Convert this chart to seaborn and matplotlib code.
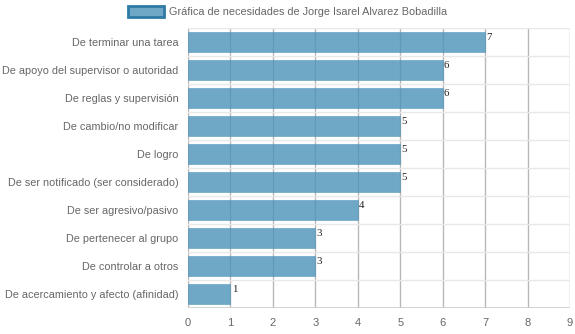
import matplotlib
matplotlib.use("Agg")
import matplotlib.pyplot as plt
import seaborn as sns
import pandas as pd
from matplotlib.patches import Patch

categories = [
    "De terminar una tarea",
    "De apoyo del supervisor o autoridad",
    "De reglas y supervisión",
    "De cambio/no modificar",
    "De logro",
    "De ser notificado (ser considerado)",
    "De ser agresivo/pasivo",
    "De pertenecer al grupo",
    "De controlar a otros",
    "De acercamiento y afecto (afinidad)",
]
values = [7, 6, 6, 5, 5, 5, 4, 3, 3, 1]
x_ticks = [0, 1, 2, 3, 4, 5, 6, 7, 8, 9]
series_name = "Gráfica de necesidades de Jorge Isarel Alvarez Bobadilla"

df = pd.DataFrame({"cat": categories, "val": values})

sns.set_style("white")
plt.rcParams["font.family"] = ["Liberation Sans", "DejaVu Sans"]

fig = plt.figure(figsize=(5.75, 3.34), dpi=100)
ax = fig.add_axes([188 / 575, 1 - 308 / 334, (570 - 188) / 575, 280 / 334])

bar_color = (0.294, 0.576, 0.725, 0.8)
sns.barplot(data=df, x="val", y="cat", orient="h", color="#4b93b9",
            width=0.72, ax=ax, zorder=3, saturation=1)
for p in ax.patches:
    p.set_facecolor(bar_color)
    p.set_edgecolor((0.294, 0.576, 0.725, 0.6))
    p.set_linewidth(0.6)

ax.set_xlim(0, 9)
ax.set_ylim(len(categories) - 0.5, -0.5)
ax.set_xticks(x_ticks)
ax.set_xlabel("")
ax.set_ylabel("")

# vertical grid (under translucent bars)
for t in x_ticks:
    ax.axvline(t, color="#b8b8b8", lw=1, zorder=1)
# horizontal boundaries
bounds = [i - 0.5 for i in range(len(categories) + 1)]
for b in bounds[:-1]:
    ax.axhline(b, color="#e8e8e8", lw=1, zorder=1)
ax.set_yticks(bounds[:-1], minor=True)
ax.tick_params(axis="y", which="minor", length=9, color="#e8e8e8", width=1)

for s in ax.spines.values():
    s.set_visible(False)

ax.tick_params(axis="y", which="major", length=0, pad=7, labelsize=7.8, labelcolor="#666666")
ax.tick_params(axis="x", length=5, color="#cccccc", pad=2, labelsize=8, labelcolor="#666666")
ax.axhline(len(categories) - 0.5, color="#cccccc", lw=1.2, zorder=5)

for i, v in enumerate(values):
    ax.text(v + 0.03, i - 0.32, str(v), ha="left", va="top", fontsize=7.8,
            family=["Liberation Serif", "DejaVu Serif"], color="#222222", zorder=6)

handle = Patch(facecolor=bar_color, edgecolor="#2f7aa6", linewidth=2)
fig.legend(handles=[handle], labels=[series_name], loc="upper center",
           bbox_to_anchor=(0.5, 1.01), frameon=False, fontsize=7.8,
           handlelength=3.3, handleheight=1.1, handletextpad=0.5,
           labelcolor="#666666")

fig.savefig("out.png", dpi=100)
